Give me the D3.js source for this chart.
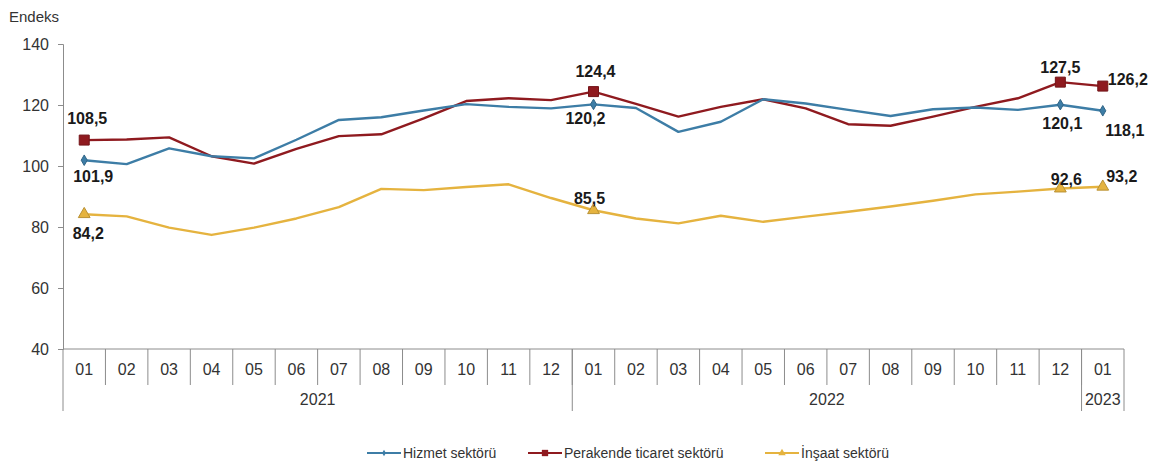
<html>
<head>
  <style type="text/css">
    body { margin: 0; background: #fff; }
    text { font-family: "Liberation Sans", Arial, sans-serif; }
  </style>
</head>
<body>
  <div id="viz"></div>
  <script src="https://cdnjs.cloudflare.com/ajax/libs/d3/7.8.5/d3.min.js"></script>
  <script>
  // months on the x axis (2021-01 .. 2023-01)
  const months = ['01','02','03','04','05','06','07','08','09','10','11','12',
                  '01','02','03','04','05','06','07','08','09','10','11','12','01'];
  const years = ['2021', '2022', '2023'];
  const yearLength = [12, 12, 1];

  const hizmet = [101.9, 100.6, 105.8, 103.2, 102.5, 108.6, 115.1, 116.0, 118.2, 120.3, 119.4, 118.9,
                  120.2, 119.0, 111.2, 114.5, 121.9, 120.5, 118.4, 116.4, 118.6, 119.2, 118.4, 120.1, 118.1];
  const perakende = [108.5, 108.7, 109.4, 103.2, 100.8, 105.6, 109.8, 110.4, 115.6, 121.3, 122.2, 121.6,
                     124.4, 120.4, 116.2, 119.4, 121.9, 118.9, 113.7, 113.2, 116.2, 119.4, 122.2, 127.5, 126.2];
  const insaat = [84.2, 83.5, 79.8, 77.4, 79.8, 82.8, 86.5, 92.5, 92.1, 93.1, 94.0, 89.5,
                  85.5, 82.8, 81.2, 83.7, 81.7, 83.4, 85.0, 86.7, 88.6, 90.7, 91.6, 92.6, 93.2];

  const seriesNames = ['Hizmet sektörü', 'Perakende ticaret sektörü', 'İnşaat sektörü'];
  const yTicks = [40, 60, 80, 100, 120, 140];
  // points that carry a marker and a value label
  const labelled = [0, 12, 23, 24];

  const width = 1154, height = 463;
  const margin = { top: 44, right: 30, bottom: 114, left: 63 };

  const keys = months.map((m, i) => i);

  const x = d3.scaleBand()
    .domain(keys)
    .range([margin.left, width - margin.right]);

  const y = d3.scaleLinear()
    .domain([40, 140])
    .range([height - margin.bottom, margin.top]);

  const svg = d3.select('#viz').append('svg')
    .attr('width', width)
    .attr('height', height);

  const axisColor = '#8c8c8c';
  const textColor = '#333';

  // y axis
  const yAxis = svg.append('g')
    .attr('transform', 'translate(' + margin.left + ',0)')
    .call(d3.axisLeft(y).tickValues(yTicks).tickSize(5).tickPadding(9));
  yAxis.select('.domain').attr('stroke', axisColor);
  yAxis.selectAll('.tick line').attr('stroke', axisColor);
  yAxis.selectAll('.tick text')
    .attr('fill', textColor)
    .style('font-size', '16px');

  svg.append('text')
    .attr('x', 9).attr('y', 22)
    .attr('fill', textColor)
    .style('font-size', '15px')
    .text('Endeks');

  // x axis with month / year rows
  const y0 = y(40);
  const xAxis = svg.append('g');
  xAxis.append('line')
    .attr('x1', x.range()[0]).attr('x2', x.range()[1])
    .attr('y1', y0).attr('y2', y0)
    .attr('stroke', axisColor);

  xAxis.selectAll('.mtick')
    .data(keys.slice(1))
    .join('line')
    .attr('x1', d => x(d)).attr('x2', d => x(d))
    .attr('y1', y0).attr('y2', y0 + 36)
    .attr('stroke', axisColor);

  xAxis.selectAll('.mlabel')
    .data(keys)
    .join('text')
    .attr('x', d => x(d) + x.bandwidth() / 2)
    .attr('y', y0 + 26)
    .attr('text-anchor', 'middle')
    .attr('fill', textColor)
    .style('font-size', '16px')
    .text(d => months[d]);

  let start = 0;
  const yearPos = years.map((yr, i) => {
    const s = start;
    start += yearLength[i];
    return { yr: yr, s: s, e: start };
  });
  const edges = [0].concat(yearPos.map(d => d.e));
  xAxis.selectAll('.ysep')
    .data(edges)
    .join('line')
    .attr('x1', d => d < keys.length ? x(d) : x.range()[1])
    .attr('x2', d => d < keys.length ? x(d) : x.range()[1])
    .attr('y1', y0).attr('y2', y0 + 62)
    .attr('stroke', axisColor);

  xAxis.selectAll('.ylabel')
    .data(yearPos)
    .join('text')
    .attr('x', d => (x(d.s) + (d.e < keys.length ? x(d.e) : x.range()[1])) / 2)
    .attr('y', y0 + 56)
    .attr('text-anchor', 'middle')
    .attr('fill', textColor)
    .style('font-size', '16px')
    .text(d => d.yr);

  // lines
  const cx = i => x(i) + x.bandwidth() / 2;
  const series = [
    { name: seriesNames[0], values: hizmet, color: '#3d7da6', marker: d3.symbolDiamond, msize: 32 },
    { name: seriesNames[1], values: perakende, color: '#8f1a1f', marker: d3.symbolSquare, msize: 100 },
    { name: seriesNames[2], values: insaat, color: '#e5b33f', marker: d3.symbolTriangle, msize: 60 }
  ];

  const line = d3.line()
    .x((d, i) => cx(i))
    .y(d => y(d));

  // draw yellow first, then red, blue on top like the reference
  [series[2], series[1], series[0]].forEach(s => {
    svg.append('path')
      .datum(s.values)
      .attr('fill', 'none')
      .attr('stroke', s.color)
      .attr('stroke-width', 2.4)
      .attr('stroke-linejoin', 'round')
      .attr('d', line);

    svg.selectAll(null)
      .data(labelled)
      .join('path')
      .attr('transform', i => 'translate(' + cx(i) + ',' + y(s.values[i]) + ')')
      .attr('d', d3.symbol().type(s.marker).size(s.msize))
      .attr('fill', s.color)
      .attr('stroke', d3.color(s.color).darker(0.6))
      .attr('stroke-width', 1);
  });

  // value labels: [series index, point index, dx, dy] (dy to text centre)
  const labelPos = [
    [1, 0, 3, -22], [0, 0, 9, 16], [2, 0, 4, 19],
    [1, 12, 2, -20], [0, 12, -8, 14], [2, 12, -4, -12],
    [1, 23, 0, -15], [0, 23, 2, 19], [2, 23, 6, -9],
    [1, 24, 25, -7], [0, 24, 22, 19], [2, 24, 19, -11]
  ];
  svg.selectAll('.vlabel')
    .data(labelPos)
    .join('text')
    .attr('x', d => cx(d[1]) + d[2])
    .attr('y', d => y(series[d[0]].values[d[1]]) + d[3])
    .attr('dy', '0.36em')
    .attr('text-anchor', 'middle')
    .attr('fill', '#1a1a1a')
    .style('font-size', '16px')
    .style('font-weight', 'bold')
    .text(d => String(series[d[0]].values[d[1]].toFixed(1)).replace('.', ','));

  // legend
  const legendX = [367, 528, 765];
  const legendY = 453;
  const legend = svg.selectAll('.legend')
    .data(series)
    .join('g')
    .attr('transform', (d, i) => 'translate(' + legendX[i] + ',' + legendY + ')');
  legend.append('line')
    .attr('x1', 0).attr('x2', 34)
    .attr('stroke', d => d.color)
    .attr('stroke-width', 2.2);
  legend.append('path')
    .attr('transform', 'translate(17,0)')
    .attr('d', d => d3.symbol().type(d.marker).size(d.msize * 0.4)())
    .attr('fill', d => d.color);
  legend.append('text')
    .attr('x', 36)
    .attr('dy', '0.35em')
    .attr('fill', textColor)
    .style('font-family', '"Liberation Sans Narrow", "Arial Narrow", sans-serif')
    .style('font-size', '14px')
    .text(d => d.name);
  </script>
</body>
</html>
